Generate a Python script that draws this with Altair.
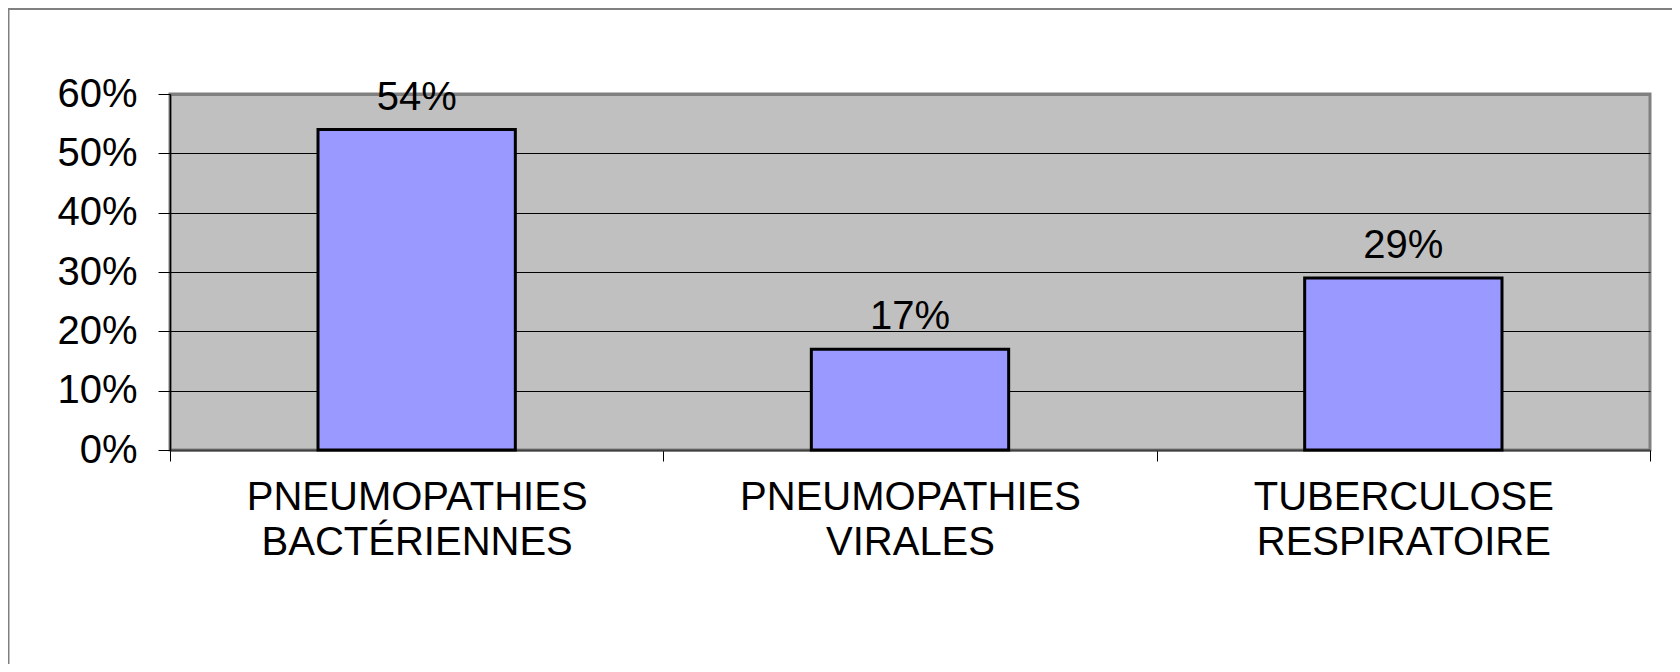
import altair as alt
import pandas as pd

categories = ["PNEUMOPATHIES BACTÉRIENNES", "PNEUMOPATHIES VIRALES", "TUBERCULOSE RESPIRATOIRE"]
values = [0.54, 0.17, 0.29]
y_ticks = [0, 0.1, 0.2, 0.3, 0.4, 0.5, 0.6]

df = pd.DataFrame({"cat": categories, "val": values})
FONT = "Liberation Sans"

x_enc = alt.X(
    "cat:N", sort=categories,
    scale=alt.Scale(paddingInner=0, paddingOuter=0),
    axis=alt.Axis(
        title=None, labelAngle=0, labelExpr="split(datum.label, ' ')",
        labelFont=FONT, labelFontSize=40, labelColor="black", labelLineHeight=45,
        labelBaseline="top", labelPadding=16, labelLimit=0,
        tickBand="extent", tickSize=11, tickColor="black", tickWidth=1,
        domainColor="#404040", domainWidth=2, grid=False,
    ),
)
y_enc = alt.Y(
    "val:Q",
    scale=alt.Scale(domain=[0, 0.6], nice=False),
    axis=alt.Axis(
        title=None, values=y_ticks, format=".0%",
        labelFont=FONT, labelFontSize=40, labelColor="black", labelPadding=21,
        tickSize=12, tickColor="black", tickWidth=1,
        domainColor="black", domainWidth=1.5,
        grid=True,
        gridColor={"condition": {"test": "datum.value >= 0.6", "value": "#808080"}, "value": "black"},
        gridWidth={"condition": {"test": "datum.value >= 0.6", "value": 3}, "value": 1},
        gridOpacity=1,
    ),
)

frame = alt.Chart(pd.DataFrame({"a": [0]})).mark_rect(
    fillOpacity=0, stroke="#808080", strokeWidth=2
).encode(
    x=alt.value(-161.5), x2=alt.value(1700), y=alt.value(-85), y2=alt.value(800)
)

bars = alt.Chart(df).mark_bar(
    color="#9999FF", stroke="black", strokeWidth=3, width=alt.RelativeBandSize(0.4)
).encode(x=x_enc, y=y_enc)

labels = alt.Chart(df).mark_text(
    font=FONT, fontSize=40, color="black", baseline="alphabetic", dy=-20
).encode(
    x=alt.X("cat:N", sort=categories),
    y=alt.Y("val:Q"),
    text=alt.Text("val:Q", format=".0%"),
)

chart = alt.layer(frame, bars, labels).properties(
    width=1480, height=356,
    padding={"left": 162, "top": 86, "right": 22, "bottom": 214},
    autosize=alt.AutoSizeParams(type="none"),
    background="white",
).configure_view(
    fill="#C0C0C0", stroke="#808080", strokeWidth=3
)

chart.save("out.html", embed_options={"renderer": "svg", "actions": False})
